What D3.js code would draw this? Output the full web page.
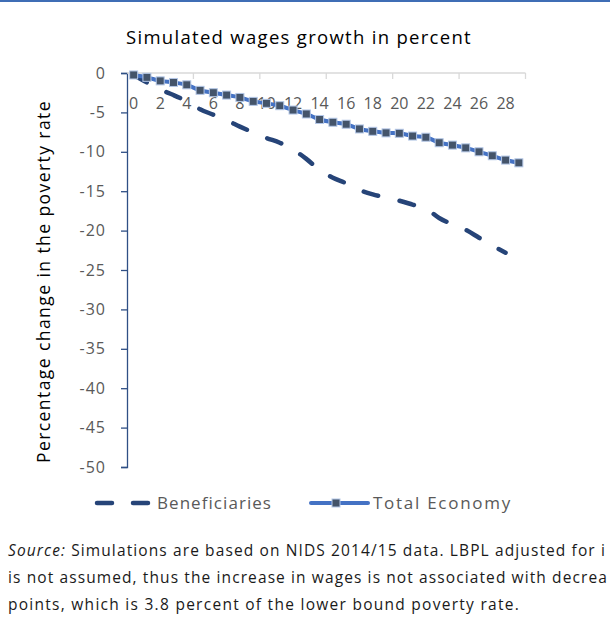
<!DOCTYPE html>
<html><head><meta charset="utf-8">
<script src="https://cdn.jsdelivr.net/npm/d3@7"></script>
<style>
body{margin:0;background:#fff;}
svg{display:block;}
</style></head>
<body>
<script>
const categories = d3.range(0, 30);
const totalEconomy = [-0.25,-0.55,-1.0,-1.2,-1.5,-2.2,-2.5,-2.8,-3.1,-3.6,-3.85,-4.15,-4.7,-5.2,-5.9,-6.25,-6.5,-7.1,-7.4,-7.6,-7.65,-8.0,-8.15,-8.85,-9.15,-9.5,-10.0,-10.5,-11.05,-11.4];
const beneficiaries = [-0.25,-1.2,-2.1,-2.8,-3.6,-4.6,-5.3,-6.0,-6.8,-7.55,-8.25,-8.85,-9.7,-10.9,-12.3,-13.3,-14.0,-14.85,-15.4,-15.8,-16.2,-16.7,-17.2,-18.4,-19.2,-19.9,-20.9,-21.9,-22.8];
const yTicks = [0,-5,-10,-15,-20,-25,-30,-35,-40,-45,-50];
const xTickLabels = d3.range(0, 30, 2);
const title = "Simulated wages growth in percent";
const yTitle = "Percentage change in the poverty rate";
const seriesNames = ["Beneficiaries", "Total Economy"];
const footnote = [
  ["Source:", " Simulations are based on NIDS 2014/15 data. LBPL adjusted for i"],
  ["", "is not assumed, thus the increase in wages is not associated with decrea"],
  ["", "points, which is 3.8 percent of the lower bound poverty rate."]
];

const W = 610, H = 626;
const svg = d3.select("body").append("svg").attr("width", W).attr("height", H);
const chartFont = "'Open Sans', 'Noto Sans', sans-serif";

function fit(sel, target) {
  const node = sel.node();
  const n = node.getNumberOfChars();
  const w = node.getComputedTextLength();
  sel.attr("letter-spacing", ((target - w) / n).toFixed(3));
  return sel;
}

svg.append("rect").attr("x",0).attr("y",0).attr("width",W).attr("height",2).attr("fill","#3F6DB5");

const x = d3.scaleBand().domain(categories).range([127, 525.5]).padding(0);
const cx = d => x(d) + x.bandwidth()/2;
const y = d3.scaleLinear().domain([-50, 0]).range([467, 73]);

// title
fit(svg.append("text").attr("x", 126).attr("y", 44)
  .attr("font-family", chartFont).attr("font-size", 18.5).attr("fill","#000").text(title), 346);

// y axis
const yAxis = svg.append("g").attr("transform","translate(127,0)")
  .call(d3.axisLeft(y).tickValues(yTicks).tickSize(6).tickPadding(15).tickFormat(d => d===0 ? "0" : "-" + Math.abs(d)));
yAxis.select(".domain").attr("stroke","#2F4F85").attr("stroke-width",1.3);
yAxis.selectAll(".tick line").attr("stroke","#2F4F85").attr("stroke-width",1.3);
yAxis.selectAll(".tick text").attr("font-family", chartFont).attr("font-size",16).attr("fill","#595959").attr("letter-spacing",1);

// y title
fit(svg.append("text").attr("transform","translate(50,463) rotate(-90)")
  .attr("font-family", chartFont).attr("font-size",17.5).attr("fill","#000").text(yTitle), 363);

// x axis (at y=0)
const xg = svg.append("g");
xg.append("line").attr("x1",127).attr("x2",525.5).attr("y1",y(0)).attr("y2",y(0)).attr("stroke","#D9D9D9").attr("stroke-width",1.3);
const tickCats = [5,10,15,20,25,30];
xg.selectAll(".xt").data(tickCats).enter().append("line")
  .attr("x1", d => d < 30 ? x(d) : x(29)+x.bandwidth()).attr("x2", d => d < 30 ? x(d) : x(29)+x.bandwidth())
  .attr("y1", y(0)).attr("y2", y(0)+6).attr("stroke","#D9D9D9").attr("stroke-width",1.3);
xg.selectAll(".xl").data(xTickLabels).enter().append("text")
  .attr("x", d => cx(d)).attr("y", 109).attr("text-anchor","middle")
  .attr("font-family", chartFont).attr("font-size",16).attr("fill","#595959").text(d => d);

// beneficiaries line
const benColor = "#264478";
const line = d3.line().x((d,i) => cx(categories[i])).y(d => y(d)).curve(d3.curveMonotoneX);
svg.append("path").datum(beneficiaries).attr("d", line).attr("fill","none")
  .attr("stroke", benColor).attr("stroke-width",4.5).attr("stroke-linecap","round")
  .attr("stroke-dasharray","15,22");

// total economy line
const teColor = "#4472C4";
svg.append("path").datum(totalEconomy).attr("d", line).attr("fill","none")
  .attr("stroke", teColor).attr("stroke-width",4);
const ms = 8;
svg.selectAll(".mk").data(totalEconomy).enter().append("rect")
  .attr("x", (d,i) => cx(categories[i]) - ms/2).attr("y", d => y(d) - ms/2)
  .attr("width", ms).attr("height", ms).attr("fill","#44546A")
  .attr("stroke","#B4C7E7").attr("stroke-width",1);

// legend
const ly = 503;
svg.append("line").attr("x1",97).attr("x2",148).attr("y1",ly).attr("y2",ly)
  .attr("stroke",benColor).attr("stroke-width",4.5).attr("stroke-linecap","round").attr("stroke-dasharray","15,21");
fit(svg.append("text").attr("x",157).attr("y",ly+6).attr("font-family",chartFont).attr("font-size",17)
  .attr("fill","#595959").text(seriesNames[0]), 115);
svg.append("line").attr("x1",311).attr("x2",368).attr("y1",ly).attr("y2",ly)
  .attr("stroke",teColor).attr("stroke-width",4).attr("stroke-linecap","round");
svg.append("rect").attr("x",336-ms/2).attr("y",ly-ms/2).attr("width",ms).attr("height",ms)
  .attr("fill","#44546A").attr("stroke","#B4C7E7").attr("stroke-width",1);
fit(svg.append("text").attr("x",373).attr("y",ly+6).attr("font-family",chartFont).attr("font-size",17)
  .attr("fill","#595959").text(seriesNames[1]), 139);

// footnote, each line fitted to the width it occupies in the reference
const fy = [556, 583, 610];
const fw = [598, 600, 512];
footnote.forEach((f,i) => {
  const t = svg.append("text").attr("x",8).attr("y",fy[i]).attr("font-family","'Open Sans', sans-serif")
    .attr("font-size",15.5).attr("fill","#1a1a1a");
  if (f[0]) t.append("tspan").attr("font-style","italic").text(f[0]);
  t.append("tspan").text(f[1]);
  fit(t, fw[i]);
});
</script>
</body></html>
